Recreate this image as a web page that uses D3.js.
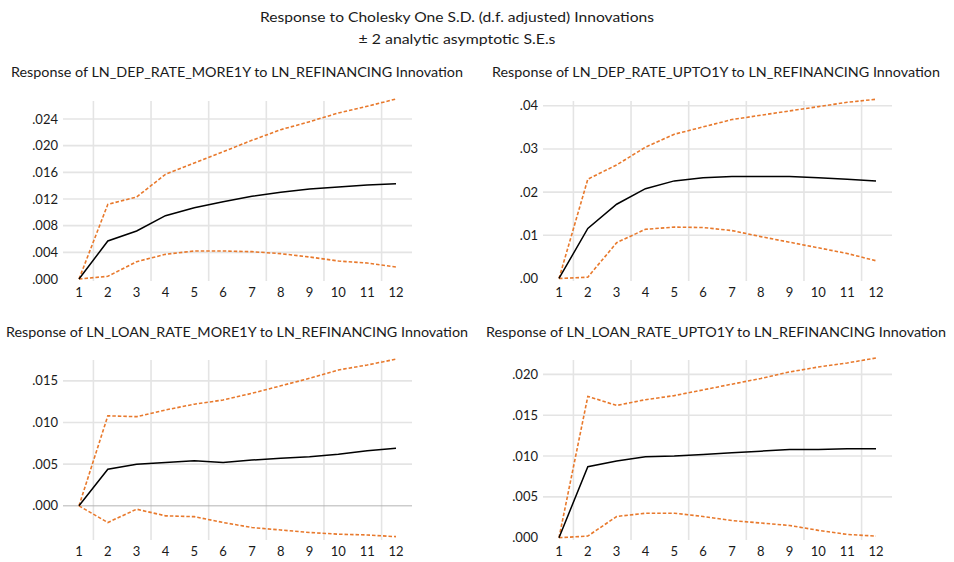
<!DOCTYPE html>
<html>
<head>
<meta charset="utf-8">
<script src="https://cdn.jsdelivr.net/npm/d3@7"></script>
<style>
  body { margin: 0; background: #fff; }
  text { font-family: Lato, "Open Sans", sans-serif; fill: #1a1a1a; }
</style>
</head>
<body>
<div id="irf"></div>
<script>
// impulse responses, periods 1..12
var periods = [1,2,3,4,5,6,7,8,9,10,11,12];

var depMore1y      = [0, .0057, .0072, .0095, .0107, .0116, .0124, .0130, .0135, .0138, .0141, .0143];
var depMore1yUpper = [0, .0112, .0123, .0157, .0174, .0191, .0208, .0224, .0236, .0249, .0259, .0270];
var depMore1yLower = [0, .0004, .0026, .0037, .0042, .0042, .0041, .0038, .0033, .0027, .0024, .0018];

var depUpto1y      = [0, .0116, .0172, .0208, .0226, .0233, .0236, .0236, .0236, .0233, .0230, .0226];
var depUpto1yUpper = [0, .0230, .0263, .0304, .0334, .0351, .0368, .0378, .0388, .0398, .0408, .0415];
var depUpto1yLower = [0, .0003, .0083, .0114, .0119, .0118, .0111, .0097, .0084, .0071, .0058, .0041];

var loanMore1y      = [0, .0044, .0050, .0052, .0054, .0052, .0055, .0057, .0059, .0062, .0066, .0069];
var loanMore1yUpper = [0, .0108, .0107, .0115, .0122, .0127, .0135, .0144, .0153, .0163, .0169, .0176];
var loanMore1yLower = [0, -.0020, -.0004, -.0012, -.0013, -.0020, -.0026, -.0029, -.0032, -.0034, -.0035, -.0037];

var loanUpto1y      = [0, .0087, .0094, .0099, .0100, .0102, .0104, .0106, .0108, .0108, .0109, .0109];
var loanUpto1yUpper = [0, .0173, .0162, .0169, .0174, .0181, .0188, .0195, .0203, .0209, .0214, .0220];
var loanUpto1yLower = [0, .0002, .0026, .0030, .0030, .0026, .0021, .0018, .0015, .0009, .0004, .0002];

var titles = [
  "Response of LN_DEP_RATE_MORE1Y to LN_REFINANCING Innovation",
  "Response of LN_DEP_RATE_UPTO1Y to LN_REFINANCING Innovation",
  "Response of LN_LOAN_RATE_MORE1Y to LN_REFINANCING Innovation",
  "Response of LN_LOAN_RATE_UPTO1Y to LN_REFINANCING Innovation"
];
var yTicks = [
  [0, .004, .008, .012, .016, .020, .024],
  [0, .01, .02, .03, .04],
  [0, .005, .010, .015],
  [0, .005, .010, .015, .020]
];
var yFormats = [".3f", ".2f", ".3f", ".3f"];
var yDomains = [[-.0003, .0267], [-.00058, .0411], [-.0041, .0175], [-.00028, .02176]];

var series = [
  [depMore1y, depMore1yUpper, depMore1yLower],
  [depUpto1y, depUpto1yUpper, depUpto1yLower],
  [loanMore1y, loanMore1yUpper, loanMore1yLower],
  [loanUpto1y, loanUpto1yUpper, loanUpto1yLower]
];

// layout of the 2x2 grid
var W = 954, H = 562;
var boxW = 349, boxH = 180;
var boxes = [
  {left: 63,  top: 101, titleX: 11,  titleY: 77,  titleW: 452},
  {left: 543, top: 101, titleX: 492, titleY: 77,  titleW: 448},
  {left: 63,  top: 360, titleX: 6,   titleY: 337, titleW: 462},
  {left: 543, top: 360, titleX: 486, titleY: 337, titleW: 460}
];

var svg = d3.select("#irf").append("svg")
  .attr("width", W).attr("height", H);

svg.append("text")
  .attr("x", 457).attr("y", 22)
  .attr("text-anchor", "middle").attr("font-size", "14px")
  .attr("textLength", 394).attr("lengthAdjust", "spacingAndGlyphs")
  .text("Response to Cholesky One S.D. (d.f. adjusted) Innovations");
svg.append("text")
  .attr("x", 457).attr("y", 44)
  .attr("text-anchor", "middle").attr("font-size", "14px")
  .attr("textLength", 197).attr("lengthAdjust", "spacingAndGlyphs")
  .text("\u00b1 2 analytic asymptotic S.E.s");

boxes.forEach(function(b, k) {
  svg.append("text")
    .attr("x", b.titleX).attr("y", b.titleY)
    .attr("font-size", "14px")
    .attr("textLength", b.titleW).attr("lengthAdjust", "spacingAndGlyphs")
    .text(titles[k]);

  var g = svg.append("g")
    .attr("transform", "translate(" + b.left + "," + b.top + ")");

  var x = d3.scaleLinear().domain([1, 12]).range([16, 333]);
  var y = d3.scaleLinear().domain(yDomains[k]).range([boxH, 0]);
  var fmt = d3.format(yFormats[k]);

  // vertical grid between every other period
  g.append("g").selectAll("line")
    .data([1.5, 3.5, 5.5, 7.5, 9.5, 11.5]).enter()
    .append("line")
    .attr("x1", d => x(d)).attr("x2", d => x(d))
    .attr("y1", 0).attr("y2", boxH)
    .style("stroke", "#e4e4e4").style("stroke-width", 1.6);

  g.append("g").selectAll("line")
    .data(yTicks[k].filter(d => d !== 0)).enter()
    .append("line")
    .attr("x1", 0).attr("x2", boxW)
    .attr("y1", d => y(d)).attr("y2", d => y(d))
    .style("stroke", "#e4e4e4").style("stroke-width", 1.6);

  if (yDomains[k][0] < -.001) {
    g.append("line")
      .attr("x1", 0).attr("x2", boxW)
      .attr("y1", y(0)).attr("y2", y(0))
      .style("stroke", "#b4b4b4").style("stroke-width", 1);
  }

  g.append("g").selectAll("text")
    .data(yTicks[k]).enter()
    .append("text")
    .attr("x", -5).attr("y", d => y(d))
    .attr("dy", ".35em").attr("text-anchor", "end")
    .attr("font-size", "13px")
    .text(d => fmt(d).replace(/^0/, ""));

  g.append("g").selectAll("text")
    .data(periods).enter()
    .append("text")
    .attr("x", d => x(d)).attr("y", boxH + 11)
    .attr("dy", ".35em").attr("text-anchor", "middle")
    .attr("font-size", "13px")
    .text(d => d);

  var line = d3.line()
    .x((d, i) => x(periods[i]))
    .y(d => y(d));

  [1, 2].forEach(function(j) {
    g.append("path")
      .datum(series[k][j])
      .attr("d", line)
      .style("fill", "none")
      .style("stroke", "#e8792c")
      .style("stroke-width", 1.6)
      .style("stroke-dasharray", "3.5,2");
  });

  g.append("path")
    .datum(series[k][0])
    .attr("d", line)
    .style("fill", "none")
    .style("stroke", "#000")
    .style("stroke-width", 1.5);
});
</script>
</body>
</html>
